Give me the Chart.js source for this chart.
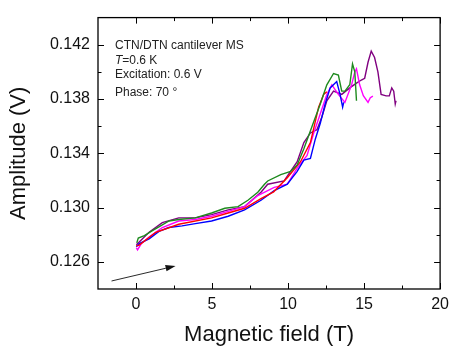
<!DOCTYPE html>
<html><head><meta charset="utf-8">
<script src="https://cdn.jsdelivr.net/npm/chart.js@4"></script>
<style>html,body{margin:0;padding:0;background:#fff}</style>
</head><body>
<canvas id="c" width="455" height="348"></canvas>
<script>
// ---- tick values ----
const xMajorTicks = [0, 5, 10, 15, 20];
const xMinorTicks = [2.5, 7.5, 12.5, 17.5];
const yMajorTicks = [0.126, 0.130, 0.134, 0.138, 0.142];
const yMinorTicks = [0.128, 0.132, 0.136, 0.140];

// ---- series (field in T, amplitude in V) ----
const greenField = [0.05,0.15,0.55,1.08,1.62,2.17,2.81,3.89,4.97,5.84,6.71,7.36,8.01,8.45,8.66,9.52,10.17,10.60,11.04,11.58,12.12,12.55,12.99,13.31,13.53,13.74,14.06,14.24,14.39,14.50];
const greenAmp   = [0.12740,0.12775,0.12794,0.12830,0.12865,0.12901,0.12912,0.12924,0.12960,0.12995,0.13007,0.13054,0.13113,0.13172,0.13196,0.13243,0.13267,0.13314,0.13433,0.13599,0.13763,0.13905,0.13988,0.13976,0.13858,0.13858,0.13905,0.14059,0.14000,0.13787];

const redField = [0.02,0.21,1.30,2.81,4.97,6.06,7.14,8.22,9.05,9.95,10.82,11.47,12.01,12.34,12.55];
const redAmp   = [0.12718,0.12723,0.12818,0.12877,0.12924,0.12960,0.12995,0.13066,0.13116,0.13220,0.13338,0.13479,0.13740,0.13834,0.13853];

const blueField = [0.02,0.21,0.86,1.51,2.16,3.03,3.90,4.97,6.06,7.14,8.22,9.09,9.95,10.60,11.04,11.47,11.79,12.12,12.44,12.77,13.20,13.42,13.59,13.66];
const blueAmp   = [0.12711,0.12735,0.12770,0.12825,0.12853,0.12865,0.12882,0.12901,0.12936,0.12983,0.13054,0.13125,0.13172,0.13267,0.13350,0.13362,0.13504,0.13621,0.13763,0.13882,0.13929,0.13834,0.13740,0.13775];

const magentaField = [0.02,0.10,0.34,0.86,1.73,2.81,3.90,4.97,6.06,7.14,8.01,8.66,9.09,9.95,10.60,11.25,11.69,12.12,12.55,12.88,13.31,13.74,14.18,14.39,14.50,14.71,14.95,15.26,15.41,15.58];
const magentaAmp   = [0.12704,0.12688,0.12733,0.12782,0.12853,0.12901,0.12912,0.12936,0.12972,0.13007,0.13089,0.13125,0.13149,0.13172,0.13291,0.13385,0.13550,0.13692,0.13834,0.13905,0.13834,0.13775,0.13905,0.14000,0.14023,0.13905,0.13825,0.13775,0.13810,0.13822];

const purpleField = [0.02,0.21,0.86,1.73,2.81,3.90,4.97,6.06,7.14,8.22,8.66,9.74,10.60,11.04,11.47,11.90,12.23,12.55,12.99,13.53,14.06,14.50,14.82,15.04,15.26,15.47,15.69,15.91,16.12,16.45,16.66,16.82,16.95,17.05,17.10];
const purpleAmp   = [0.12726,0.12747,0.12818,0.12889,0.12924,0.12924,0.12948,0.12983,0.13007,0.13113,0.13172,0.13196,0.13338,0.13479,0.13550,0.13574,0.13669,0.13787,0.13858,0.13834,0.13882,0.13917,0.13940,0.13953,0.14071,0.14153,0.14106,0.14000,0.13834,0.13823,0.13823,0.13882,0.13858,0.13763,0.13787];

const seriesColors = ['#1e8a1e', '#ff0000', '#0000ff', '#ff00ff', '#800080'];

// ---- annotations ----
const annotationLines = ['CTN/DTN cantilever MS', '=0.6 K', 'Excitation: 0.6 V', 'Phase: 70 \u00b0'];
const arrowFrom = [-1.61, 0.12459];
const arrowTo = [2.60, 0.1257];

const xTitle = 'Magnetic field (T)';
const yTitle = 'Amplitude (V)';

function pts(xs, ys) { return xs.map((x, i) => ({x: x, y: ys[i]})); }

const FONT = "'Liberation Sans', Arial, sans-serif";

const framePlugin = {
  id: 'frame',
  afterDatasetsDraw(chart) {
    const ctx = chart.ctx, a = chart.chartArea;
    const xs = chart.scales.x, ys = chart.scales.y;
    ctx.save();
    ctx.strokeStyle = '#000';
    ctx.lineWidth = 1.3;
    ctx.strokeRect(a.left, a.top, a.right - a.left, a.bottom - a.top);
    ctx.lineWidth = 1;
    ctx.beginPath();
    const tick = (vals, len) => {
      vals.forEach(v => {
        const px = Math.round(xs.getPixelForValue(v)) + 0.5;
        ctx.moveTo(px, a.bottom); ctx.lineTo(px, a.bottom - len);
        ctx.moveTo(px, a.top); ctx.lineTo(px, a.top + len);
      });
    };
    const tickY = (vals, len) => {
      vals.forEach(v => {
        const py = Math.round(ys.getPixelForValue(v)) + 0.5;
        ctx.moveTo(a.left, py); ctx.lineTo(a.left + len, py);
        ctx.moveTo(a.right, py); ctx.lineTo(a.right - len, py);
      });
    };
    tick(xMajorTicks, 6); tick(xMinorTicks, 3.5);
    tickY(yMajorTicks, 6); tickY(yMinorTicks, 3.5);
    ctx.stroke();

    // arrow
    const x1 = xs.getPixelForValue(arrowFrom[0]), y1 = ys.getPixelForValue(arrowFrom[1]);
    const x2 = xs.getPixelForValue(arrowTo[0]), y2 = ys.getPixelForValue(arrowTo[1]);
    const ang = Math.atan2(y2 - y1, x2 - x1);
    const hl = 10, hw = 3.2;
    const bx = x2 - hl * Math.cos(ang), by = y2 - hl * Math.sin(ang);
    ctx.lineWidth = 0.9;
    ctx.strokeStyle = '#111';
    ctx.beginPath(); ctx.moveTo(x1, y1); ctx.lineTo(bx, by); ctx.stroke();
    ctx.fillStyle = '#111';
    ctx.beginPath();
    ctx.moveTo(x2, y2);
    ctx.lineTo(bx + hw * Math.sin(ang), by - hw * Math.cos(ang));
    ctx.lineTo(bx - hw * Math.sin(ang), by + hw * Math.cos(ang));
    ctx.closePath(); ctx.fill();

    // text annotation
    ctx.fillStyle = '#222';
    ctx.textBaseline = 'middle';
    ctx.textAlign = 'left';
    const tx = a.left + 17;
    const lineY = [28, 43.5, 57.5, 75];
    ctx.font = '12px ' + FONT;
    ctx.fillText(annotationLines[0], tx, a.top + lineY[0]);
    ctx.font = 'italic 12px ' + FONT;
    ctx.fillText('T', tx, a.top + lineY[1]);
    const tw = ctx.measureText('T').width;
    ctx.font = '12px ' + FONT;
    ctx.fillText(annotationLines[1], tx + tw, a.top + lineY[1]);
    ctx.fillText(annotationLines[2], tx, a.top + lineY[2]);
    ctx.fillText(annotationLines[3], tx, a.top + lineY[3]);
    ctx.restore();
  }
};

const datasets = [
  pts(greenField, greenAmp), pts(redField, redAmp), pts(blueField, blueAmp),
  pts(magentaField, magentaAmp), pts(purpleField, purpleAmp)
].map((d, i) => ({
  data: d, borderColor: seriesColors[i], backgroundColor: seriesColors[i],
  borderWidth: 1.4, pointRadius: 0, tension: 0, fill: false
}));

new Chart(document.getElementById('c'), {
  type: 'line',
  data: { datasets: datasets },
  options: {
    responsive: false, animation: false, devicePixelRatio: 1,
    layout: { padding: { top: 6, right: 10, left: 0, bottom: 0 } },
    plugins: { legend: { display: false }, tooltip: { enabled: false } },
    scales: {
      x: {
        type: 'linear', min: -2.5, max: 20,
        afterFit(s) { s.height = 59; },
        afterBuildTicks(s) { s.ticks = xMajorTicks.map(v => ({value: v})); },
        grid: { display: false, drawTicks: false },
        border: { display: false },
        ticks: { color: '#111', font: { family: FONT, size: 16 }, padding: 6, callback: v => String(v), maxRotation: 0 },
        title: { display: true, text: xTitle, color: '#111', font: { family: FONT, size: 22 }, padding: { top: 0, bottom: 0 } }
      },
      y: {
        type: 'linear', min: 0.124, max: 0.144,
        afterFit(s) { s.width = 98; },
        afterBuildTicks(s) { s.ticks = yMajorTicks.map(v => ({value: v})); },
        grid: { display: false, drawTicks: false },
        border: { display: false },
        ticks: { color: '#111', font: { family: FONT, size: 16 }, padding: 8, callback: v => v.toFixed(3) },
        title: { display: true, text: yTitle, color: '#111', font: { family: FONT, size: 22 }, padding: { top: 6, bottom: 0 } }
      }
    }
  },
  plugins: [framePlugin]
});
</script>
</body></html>
